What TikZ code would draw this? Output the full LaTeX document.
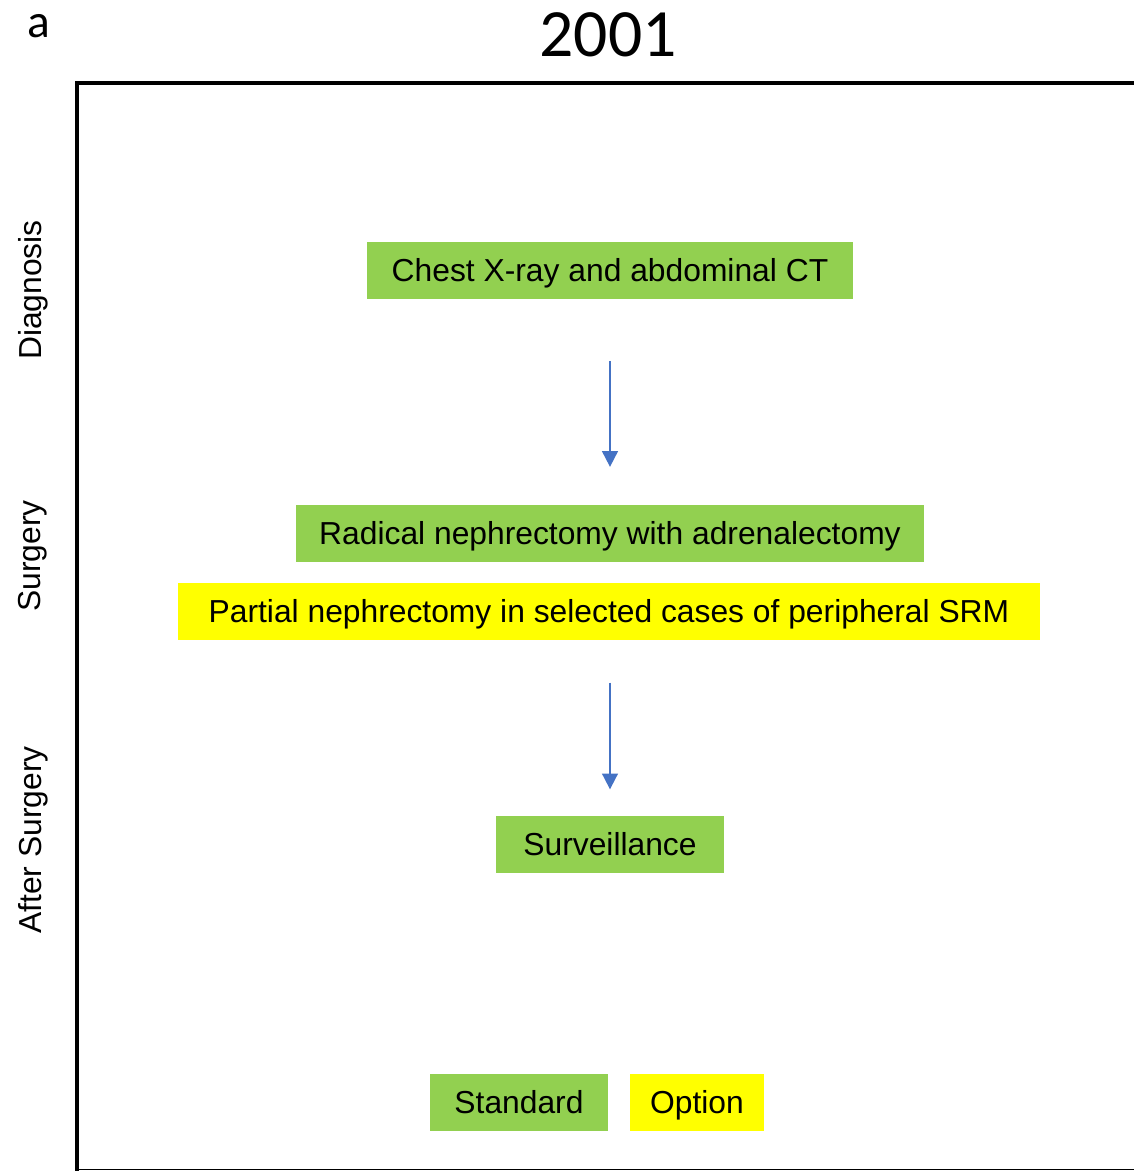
\documentclass[tikz,border=0pt]{standalone}
\usepackage{fontspec}
\setmainfont{Liberation Sans}
\newfontfamily\calfont{Carlito}
\usetikzlibrary{arrows.meta,positioning}
\definecolor{stdgreen}{HTML}{92D050}
\definecolor{optyellow}{HTML}{FFFF00}
\definecolor{flowblue}{HTML}{4472C4}
\tikzset{
	boxtext/.style={font=\fontsize{18.1}{20}\selectfont, inner sep=0pt, minimum height=1.14cm, text height=16.8pt, text depth=3.8pt, anchor=center},
	stdbox/.style={boxtext, fill=stdgreen},
	optbox/.style={boxtext, fill=optyellow},
	sidelabel/.style={font=\fontsize{18.1}{20}\selectfont, rotate=90, inner sep=0pt},
	flowarrow/.style={-{Triangle[width=9pt,length=9pt]}, flowblue, line width=1.1pt}
}
\begin{document}
\begin{tikzpicture}[x=0.02cm, y=-0.02cm]
				\useasboundingbox (0,0) rectangle (1134,1171);
				% frame
				\draw[line width=2.8pt] (77,1171)--(77,83)--(1134,83);
				\draw[line width=1.1pt] (77,1169.5)--(1134,1169.5);
				% headings
				\node[font=\calfont\fontsize{27}{28}\selectfont, inner sep=0pt] (panel) at (39,26) {a};
				\node[font=\calfont\fontsize{38.5}{40}\selectfont, inner sep=0pt] (year) at (608,35) {2001};
				% side labels
				\node[sidelabel] (diag) at (33,290) {Diagnosis};
				\node[sidelabel] (surg) at (33,556) {Surgery};
				\node[sidelabel] (after) at (33,840) {After Surgery};
				% boxes
				\node[stdbox, minimum width=9.72cm] (chest) at (610,270.5) {Chest X-ray and abdominal CT};
				\node[stdbox, minimum width=12.56cm] (radical) at (610,533.5) {Radical nephrectomy with adrenalectomy};
				\node[optbox, minimum width=17.24cm] (partial) at (609,611) {Partial nephrectomy in selected cases of peripheral SRM};
				\node[stdbox, minimum width=4.56cm] (surv) at (610,844) {Surveillance};
				% arrows
				\draw[flowarrow, shorten <=35pt, shorten >=21.5pt] (chest.south)--(radical.north);
				\draw[flowarrow, shorten <=24.4pt, shorten >=14.7pt] (partial.south-|surv.north)--(surv.north);
				% legend
				\node[stdbox, minimum width=3.56cm] (std) at (519,1102) {Standard};
				\node[optbox, minimum width=2.68cm] (opt) at (697,1102) {Option};
			\end{tikzpicture}
\end{document}
